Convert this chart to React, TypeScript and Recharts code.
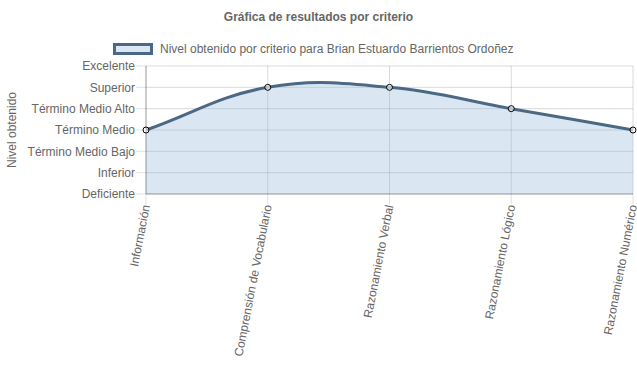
import React from 'react'
import { AreaChart, Area, XAxis, YAxis, CartesianGrid } from 'recharts'

const criterios = [
  'Información',
  'Comprensión de Vocabulario',
  'Razonamiento Verbal',
  'Razonamiento Lógico',
  'Razonamiento Numérico',
]
const niveles = [3, 5, 5, 4, 3]
const nivelLabels = [
  'Deficiente',
  'Inferior',
  'Término Medio Bajo',
  'Término Medio',
  'Término Medio Alto',
  'Superior',
  'Excelente',
]
const yTicks = [0, 1, 2, 3, 4, 5, 6]

const data = criterios.map((c, i) => ({ criterio: c, nivel: niveles[i] }))

const FONT = '"Liberation Sans", Arial, Helvetica, sans-serif'
const GRAY = '#666'
const LINE = '#4b6984'
const FILL = 'rgb(149,186,221)'

// bezier spline like Chart.js (tension 0.4)
function splineCurve(ctx: any) {
  let pts: number[][] = []
  let line = NaN
  const tension = 0.4
  return {
    areaStart() { line = 0 },
    areaEnd() { line = NaN },
    lineStart() { pts = [] },
    lineEnd() {
      const n = pts.length
      if (n) {
        if (line) ctx.lineTo(pts[0][0], pts[0][1])
        else ctx.moveTo(pts[0][0], pts[0][1])
        const cps = pts.map((p, i) => {
          const prev = pts[i - 1] || p
          const next = pts[i + 1] || p
          const d01 = Math.hypot(p[0] - prev[0], p[1] - prev[1])
          const d12 = Math.hypot(next[0] - p[0], next[1] - p[1])
          const tot = d01 + d12 || 1
          const fa = tension * (d01 / tot)
          const fb = tension * (d12 / tot)
          return {
            prev: [p[0] - fa * (next[0] - prev[0]), p[1] - fa * (next[1] - prev[1])],
            next: [p[0] + fb * (next[0] - prev[0]), p[1] + fb * (next[1] - prev[1])],
          }
        })
        for (let i = 1; i < n; i++) {
          const a = cps[i - 1].next
          const b = cps[i].prev
          ctx.bezierCurveTo(a[0], a[1], b[0], b[1], pts[i][0], pts[i][1])
        }
      }
      if (line || (line !== 0 && n === 1)) ctx.closePath()
      line = 1 - line
    },
    point(x: number, y: number) { pts.push([+x, +y]) },
  }
}

function XTick({ x, y, payload }: any) {
  return (
    <text
      x={x}
      y={y}
      transform={`rotate(-79 ${x} ${y})`}
      textAnchor="end"
      dominantBaseline="central"
      fontSize={12}
      fontFamily={FONT}
      fill={GRAY}
    >
      {payload.value}
    </text>
  )
}

export default function App() {
  return (
    <div style={{ position: 'relative', width: 637, height: 389, fontFamily: FONT, background: '#fff' }}>
      <style>{'body{margin:0}'}</style>
      <div style={{ position: 'absolute', left: 0, width: 637, top: 10, textAlign: 'center', fontSize: 12, fontWeight: 'bold', color: GRAY }}>
        Gráfica de resultados por criterio
      </div>
      <div style={{ position: 'absolute', left: 113, top: 43, width: 40, height: 12, boxSizing: 'border-box', border: `3px solid ${LINE}`, background: '#dae7f3' }} />
      <div style={{ position: 'absolute', left: 160, top: 42, fontSize: 12, color: GRAY, whiteSpace: 'nowrap' }}>
        Nivel obtenido por criterio para Brian Estuardo Barrientos Ordoñez
      </div>
      <div style={{ position: 'absolute', left: 12, top: 130, fontSize: 12, color: GRAY, whiteSpace: 'nowrap', transform: 'translate(-50%, -50%) rotate(-90deg)' }}>
        Nivel obtenido
      </div>
      <AreaChart width={637} height={389} data={data} margin={{ top: 66, right: 4, left: 0, bottom: 0 }}>
        <Area
          dataKey="nivel"
          type={splineCurve as any}
          stroke="none"
          fill={FILL}
          fillOpacity={0.35}
          dot={false}
          activeDot={false}
          isAnimationActive={false}
        />
        <CartesianGrid stroke="rgba(0,0,0,0.15)" />
        <XAxis
          dataKey="criterio"
          height={195}
          interval={0}
          tick={<XTick />}
          tickSize={10}
          tickMargin={1}
          tickLine={{ stroke: 'rgba(0,0,0,0.12)' }}
          axisLine={{ stroke: 'rgba(0,0,0,0.28)' }}
        />
        <YAxis
          type="number"
          domain={[0, 6]}
          ticks={yTicks}
          interval={0}
          width={146}
          tickFormatter={(v: number) => nivelLabels[v]}
          tick={{ fontSize: 12, fill: GRAY, fontFamily: FONT }}
          tickSize={10}
          tickMargin={1}
          tickLine={{ stroke: 'rgba(0,0,0,0.12)' }}
          axisLine={{ stroke: 'rgba(0,0,0,0.28)' }}
        />
        <Area
          dataKey="nivel"
          type={splineCurve as any}
          stroke={LINE}
          strokeWidth={3}
          fill="none"
          dot={{ r: 3, fill: '#fff', stroke: '#000', strokeWidth: 1 }}
          activeDot={false}
          isAnimationActive={false}
        />
      </AreaChart>
    </div>
  )
}
